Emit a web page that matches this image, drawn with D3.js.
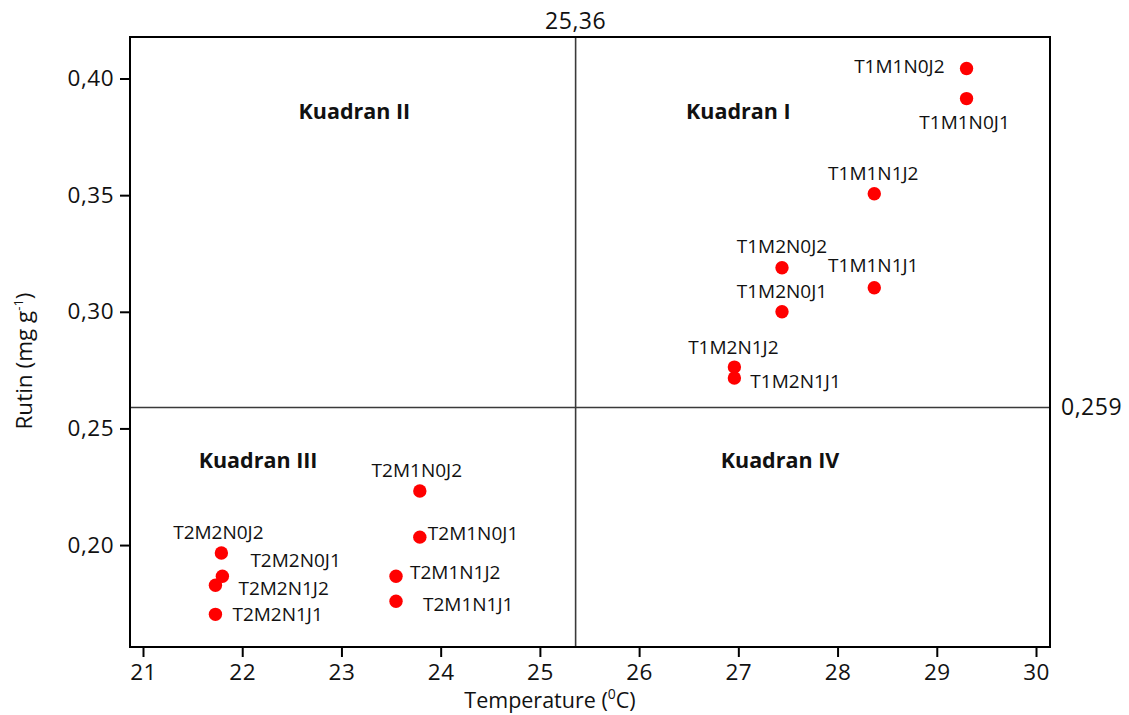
<!DOCTYPE html>
<html>
<head>
<meta charset="utf-8">
<script src="https://cdn.jsdelivr.net/npm/d3@7"></script>
<style>
  body { margin: 0; background: #fff; }
  text { font-family: "Open Sans", sans-serif; fill: #111; }
</style>
</head>
<body>
<div id="grafico"></div>
<script>
// datos
const perlakuan = ["T1M1N0J2", "T1M1N0J1", "T1M1N1J2", "T1M1N1J1",
                   "T1M2N0J2", "T1M2N0J1", "T1M2N1J2", "T1M2N1J1",
                   "T2M1N0J2", "T2M1N0J1", "T2M1N1J2", "T2M1N1J1",
                   "T2M2N0J2", "T2M2N0J1", "T2M2N1J2", "T2M2N1J1"];
const suhu  = [29.30, 29.30, 28.37, 28.37, 27.44, 27.44, 26.96, 26.96,
               23.79, 23.79, 23.55, 23.55, 21.79, 21.80, 21.73, 21.73];
const rutin = [0.4043, 0.3914, 0.3506, 0.3103, 0.3189, 0.3000, 0.2763, 0.2716,
               0.2232, 0.2034, 0.1866, 0.1759, 0.1966, 0.1866, 0.1828, 0.1703];

const xTicks = [21, 22, 23, 24, 25, 26, 27, 28, 29, 30];
const yTicks = [0.20, 0.25, 0.30, 0.35, 0.40];

const batasSuhu = 25.36;
const batasRutin = 0.259;

const kuadranNama = ["Kuadran I", "Kuadran II", "Kuadran III", "Kuadran IV"];
const kuadranX = [27.0, 23.13, 22.16, 27.42];
const kuadranY = [0.3825, 0.3825, 0.2329, 0.2329];

// colocacion de las etiquetas (anchor, dx, dy en pixeles)
const posLabel = [
  ["end", -22, 5], ["middle", -2, 30], ["middle", -1, -14], ["middle", -1, -16],
  ["middle", 0, -15], ["middle", 0, -14], ["middle", -1, -13], ["start", 16, 10],
  ["middle", -3, -14], ["start", 8, 3], ["start", 14, 3], ["start", 27, 10],
  ["middle", -3, -14], ["start", 28, -9], ["start", 23, 10], ["start", 17, 7]
];

const W = 1129, H = 715;
const margin = {top: 37, right: 79, bottom: 68, left: 130};

const svg = d3.select("#grafico")
  .append("svg")
  .attr("width", W)
  .attr("height", H);

const x = d3.scaleLinear().domain([20.869, 30.141]).range([margin.left, W - margin.right]);
const y = d3.scaleLinear().domain([0.1563, 0.4178]).range([H - margin.bottom, margin.top]);

const koma = (f) => (d) => d3.format(f)(d).replace(".", ",");

// ejes
const ejeX = svg.append("g")
  .attr("transform", `translate(0,${H - margin.bottom})`)
  .call(d3.axisBottom(x).tickValues(xTicks).tickFormat(d3.format("d")).tickSize(10).tickPadding(7));
const ejeY = svg.append("g")
  .attr("transform", `translate(${margin.left},0)`)
  .call(d3.axisLeft(y).tickValues(yTicks).tickFormat(koma(".2f")).tickSize(10).tickPadding(6));

[ejeX, ejeY].forEach(g => {
  g.select(".domain").remove();
  g.selectAll(".tick line").attr("stroke", "#000").attr("stroke-width", 2);
  g.selectAll(".tick text").style("font-size", "22.5px").style("font-family", "Open Sans")
    .style("letter-spacing", "0.5px").attr("fill", "#111");
});

// lineas de cuadrante
svg.append("line")
  .attr("x1", x(batasSuhu)).attr("x2", x(batasSuhu))
  .attr("y1", margin.top).attr("y2", H - margin.bottom)
  .attr("stroke", "#3a3a3a").attr("stroke-width", 1.6);
svg.append("line")
  .attr("x1", margin.left).attr("x2", W - margin.right)
  .attr("y1", y(batasRutin)).attr("y2", y(batasRutin))
  .attr("stroke", "#3a3a3a").attr("stroke-width", 1.6);

// marco
svg.append("rect")
  .attr("x", margin.left).attr("y", margin.top)
  .attr("width", W - margin.left - margin.right)
  .attr("height", H - margin.top - margin.bottom)
  .attr("fill", "none").attr("stroke", "#000").attr("stroke-width", 2);

svg.append("text")
  .attr("x", x(batasSuhu)).attr("y", margin.top - 8)
  .attr("text-anchor", "middle").style("font-size", "23px").style("letter-spacing", "0.5px")
  .text(koma(".2f")(batasSuhu));
svg.append("text")
  .attr("x", W - margin.right + 11).attr("y", y(batasRutin)).attr("dy", "0.35em")
  .style("font-size", "23px").style("letter-spacing", "0.5px")
  .text(koma(".3f")(batasRutin));

// nombres de cuadrantes
svg.selectAll(".kuadran")
  .data(kuadranNama)
  .join("text")
  .attr("class", "kuadran")
  .attr("x", (_, i) => x(kuadranX[i]))
  .attr("y", (_, i) => y(kuadranY[i]))
  .attr("text-anchor", "middle")
  .style("font-size", "21.5px").style("font-weight", "bold")
  .text(d => d);

// puntos
const datos = perlakuan.map((p, i) => ({nama: p, suhu: suhu[i], rutin: rutin[i], pos: posLabel[i]}));

svg.selectAll("circle")
  .data(datos)
  .join("circle")
  .attr("cx", d => x(d.suhu))
  .attr("cy", d => y(d.rutin))
  .attr("r", 6.7)
  .attr("fill", "#ff0000");

svg.selectAll(".label")
  .data(datos)
  .join("text")
  .attr("class", "label")
  .attr("x", d => x(d.suhu) + d.pos[1])
  .attr("y", d => y(d.rutin) + d.pos[2])
  .attr("text-anchor", d => d.pos[0])
  .style("font-size", "19px")
  .text(d => d.nama);

// titulos de ejes
const tX = svg.append("text")
  .attr("x", 550).attr("y", 708)
  .attr("text-anchor", "middle")
  .style("font-size", "21.5px");
tX.append("tspan").text("Temperature (");
tX.append("tspan").attr("dy", -9).style("font-size", "14px").text("0");
tX.append("tspan").attr("dy", 9).text("C)");

const tY = svg.append("text")
  .attr("transform", `translate(32,361) rotate(-90)`)
  .attr("text-anchor", "middle")
  .style("font-size", "22.5px");
tY.append("tspan").text("Rutin (mg g");
tY.append("tspan").attr("dy", -9).style("font-size", "13px").text("-1");
tY.append("tspan").attr("dy", 9).text(")");
</script>
</body>
</html>
